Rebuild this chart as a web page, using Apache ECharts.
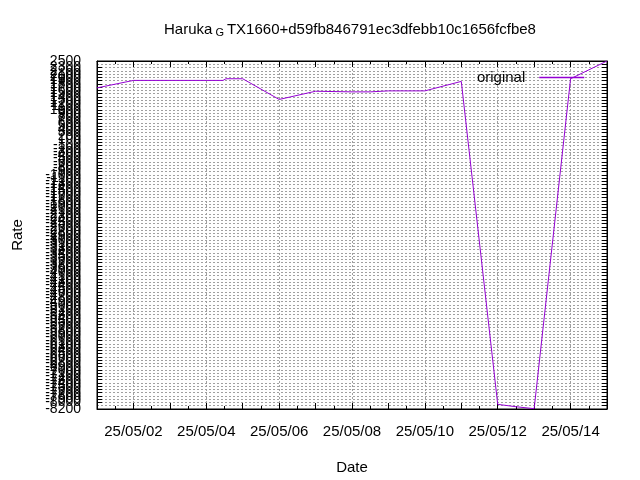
<!DOCTYPE html>
<html>
<head>
<meta charset="utf-8">
<script src="https://cdn.jsdelivr.net/npm/echarts@6/dist/echarts.min.js"></script>
<style>html,body{margin:0;padding:0;background:#fff}#c{width:640px;height:480px}</style>
</head>
<body>
<div id="c"></div>
<script>
// ---- data ----
const dates = ['2025-05-01 00:00','2025-05-02 00:00','2025-05-03 00:00','2025-05-04 00:00','2025-05-04 11:00','2025-05-04 13:00','2025-05-05 00:00','2025-05-06 00:00','2025-05-07 00:00','2025-05-08 00:00','2025-05-08 12:00','2025-05-08 13:00','2025-05-09 00:00','2025-05-10 00:00','2025-05-11 00:00','2025-05-12 00:00','2025-05-12 12:00','2025-05-13 00:00','2025-05-14 00:00','2025-05-15 00:00'];
const rates = [1673,1903,1903,1903,1903,1954,1954,1318,1570,1551,1551,1581,1581,1581,1873,-8057,-8130,-8190,1954,2500];
const xTickLabels = ['25/05/02','25/05/04','25/05/06','25/05/08','25/05/10','25/05/12','25/05/14'];
const seriesName = 'original';
const titleMain = 'Haruka';
const titleSub = 'G';
const titleRest = 'TX1660+d59fb846791ec3dfebb10c1656fcfbe8';
const yMin = -8200, yMax = 2500, yStep = 100;

function ts(s){return Date.UTC(+s.slice(0,4), +s.slice(5,7)-1, +s.slice(8,10), +s.slice(11,13), +s.slice(14,16));}
const DAY = 86400000;
const xMin = ts('2025-05-01 00:00'), xMax = ts('2025-05-15 00:00');
function fmt(v){const d=new Date(v);const p=n=>String(n).padStart(2,'0');return p(d.getUTCFullYear()%100)+'/'+p(d.getUTCMonth()+1)+'/'+p(d.getUTCDate());}

const FONT = 'Liberation Sans, Arial, sans-serif';
const COLOR = '#9400d3';
const chart = echarts.init(document.getElementById('c'), null, {renderer:'canvas'});
const gridLine = {show:true, lineStyle:{color:'#a0a0a0', type:[2,2], width:1}};
chart.setOption({
  animation:false,
  backgroundColor:'#fff',
  color:[COLOR],
  graphic:[{
    type:'text', x:350, y:30,
    style:{
      text:'{a|'+titleMain+'}{s|'+titleSub+'}{a|'+titleRest+'}',
      textAlign:'center', textVerticalAlign:'middle',
      rich:{
        a:{fontFamily:FONT, fontSize:15, fill:'#000', lineHeight:16, verticalAlign:'top'},
        s:{fontFamily:FONT, fontSize:11, fill:'#000', lineHeight:16, verticalAlign:'bottom', padding:[6,3,0,3]}
      }
    }
  }],
  grid:{left:97, right:33, top:61, bottom:66, show:true, borderColor:'#000', borderWidth:1, backgroundColor:'transparent'},
  legend:{
    right:50, top:65, align:'right', itemWidth:45, itemHeight:14, itemGap:0,
    textStyle:{fontFamily:FONT, fontSize:15, color:'#000', padding:[0,9,0,0]},
    itemStyle:{opacity:0},
    lineStyle:{width:1.5, color:COLOR, opacity:1},
    data:[seriesName]
  },
  xAxis:[{
    type:'value', min:xMin, max:xMax, interval:DAY,
    name:'Date', nameLocation:'middle', nameGap:51,
    nameTextStyle:{fontFamily:FONT, fontSize:15, color:'#000'},
    axisLine:{show:true, onZero:false, lineStyle:{color:'#000', width:1}},
    axisTick:{show:true, inside:true, length:6, lineStyle:{color:'#000'}},
    minorTick:{show:true, splitNumber:2, length:3, lineStyle:{color:'#000'}},
    axisLabel:{fontFamily:FONT, fontSize:15, color:'#000', margin:15, showMinLabel:false, showMaxLabel:false,
      formatter:function(v){const s=fmt(v);return xTickLabels.indexOf(s)>=0?s:'';}},
    splitLine:{show:true, lineStyle:{color:['rgba(0,0,0,0)','#a0a0a0'], type:[2,2], width:1}}
  },{
    type:'value', position:'top', min:xMin, max:xMax, interval:DAY,
    axisLine:{show:true, onZero:false, lineStyle:{color:'#000'}},
    axisTick:{show:true, inside:true, length:6, lineStyle:{color:'#000'}},
    minorTick:{show:true, splitNumber:2, length:3, lineStyle:{color:'#000'}},
    axisLabel:{show:false}, splitLine:{show:false}
  }],
  yAxis:[{
    type:'value', min:yMin, max:yMax, interval:yStep,
    name:'Rate', nameLocation:'middle', nameGap:72, nameRotate:90,
    nameTextStyle:{fontFamily:FONT, fontSize:15, color:'#000'},
    axisLine:{show:true, onZero:false, lineStyle:{color:'#000'}},
    axisTick:{show:true, inside:true, length:5, lineStyle:{color:'#000'}},
    axisLabel:{fontFamily:FONT, fontSize:14, color:'#000', margin:16, hideOverlap:false,
      showMinLabel:true, showMaxLabel:true,
      formatter:function(v){return String(v);}},
    splitLine:gridLine
  },{
    type:'value', position:'right', min:yMin, max:yMax, interval:yStep,
    axisLine:{show:true, onZero:false, lineStyle:{color:'#000'}},
    axisTick:{show:true, inside:true, length:5, lineStyle:{color:'#000'}},
    axisLabel:{show:false}, splitLine:{show:false}
  }],
  series:[{
    name:seriesName, type:'line', xAxisIndex:0, yAxisIndex:0, color:COLOR,
    data:dates.map((d,i)=>[ts(d), rates[i]]),
    showSymbol:false, symbol:'none',
    lineStyle:{color:COLOR, width:1}, itemStyle:{color:COLOR}
  }]
});
</script>
</body>
</html>
